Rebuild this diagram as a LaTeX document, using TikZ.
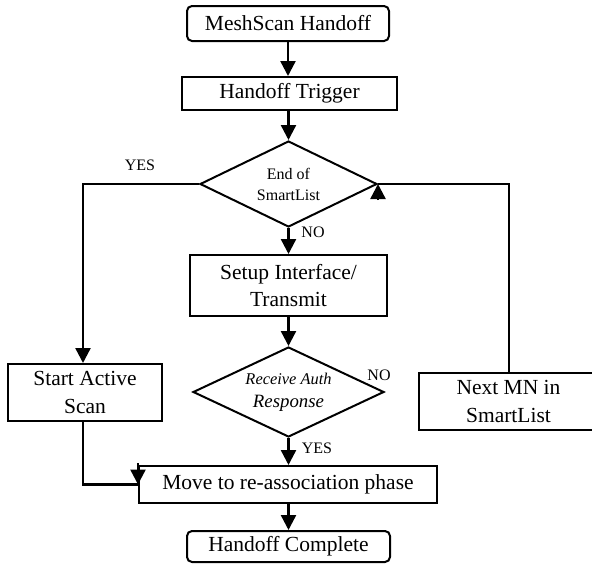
\documentclass[tikz,border=0pt]{standalone}
\usepackage{fontspec}
\setmainfont{Liberation Serif}
\usetikzlibrary{shapes.geometric,arrows.meta}
\tikzset{
  box/.style={draw, line width=2pt, inner sep=0pt, align=center, font=\fontsize{21.5}{27}\selectfont},
  rbox/.style={box, rounded corners=5pt},
  dia/.style={draw, diamond, line width=2pt, inner sep=0pt, align=center},
  conn/.style={line width=2.4pt},
  arr/.style={conn, -{Triangle[width=15pt,length=15pt]}},
  lbl/.style={inner sep=0pt, font=\fontsize{16}{18}\selectfont}
}
\begin{document}
\begin{tikzpicture}[x=1pt,y=-1pt]
\useasboundingbox (0,0) rectangle (592,565);
\node[rbox, minimum width=202pt, minimum height=35pt] (mesh) at (288,23.5) {MeshScan Handoff};
\node[box, minimum width=215pt, minimum height=33pt] (trig) at (289.5,93.5) {Handoff Trigger};
\node[dia, aspect=2.06, minimum width=177pt, minimum height=86pt, font=\fontsize{16}{21}\selectfont] (d1) at (288.5,184) {End of\\SmartList};
\node[box, minimum width=197pt, minimum height=61pt] (setup) at (288.5,285.5) {Setup Interface/\\Transmit};
\node[dia, aspect=2.12, minimum width=191pt, minimum height=90pt, font=\fontsize{18.8}{23}\selectfont\itshape] (d2) at (288.5,392) {{\fontsize{16.4}{23}\selectfont Receive Auth}\\Response};
\node[box, minimum width=154pt, minimum height=57pt, font=\fontsize{21.5}{28}\selectfont] (start) at (85,392.5) {Start Active\\Scan};
\node[box, minimum width=179pt, minimum height=57pt, font=\fontsize{21.5}{28}\selectfont] (next) at (508.5,401.5) {Next MN in\\SmartList};
\node[box, minimum width=298pt, minimum height=37pt] (move) at (288,484.5) {Move to re-association phase};
\node[rbox, minimum width=203pt, minimum height=31pt] (comp) at (288.5,546.5) {Handoff Complete};

\draw[arr] (mesh.south) -- (mesh.south |- trig.north);
\draw[arr] (trig.south -| d1.north) -- (d1.north);
\draw[arr] (d1.south) -- (d1.south |- setup.north);
\draw[arr] (setup.south -| d2.north) -- (d2.north);
\draw[arr] (d2.south) -- (d2.south |- move.north);
\draw[arr] (move.south -| comp.north) -- (comp.north);

\coordinate (yesc) at (83,184);
\draw[arr] (d1.west) -- (yesc) -- (yesc |- start.north);
\coordinate (bend) at (83,484.5);
\draw[conn] (yesc |- start.south) -- (bend) -- (move.west);
\draw[arr] ([yshift=2pt]move.north west) -- (move.west);

\coordinate (upc) at (509,184);
\draw[conn] (upc |- next.north) -- (upc) -- (d1.east);
\draw[arr] ([yshift=-16pt]d1.east) -- (d1.east);

\node[lbl] (yes1) at (140,165) {YES};
\node[lbl] (no1) at (313,232) {NO};
\node[lbl] (no2) at (379,375) {NO};
\node[lbl] (yes2) at (317,448) {YES};
\end{tikzpicture}
\end{document}
